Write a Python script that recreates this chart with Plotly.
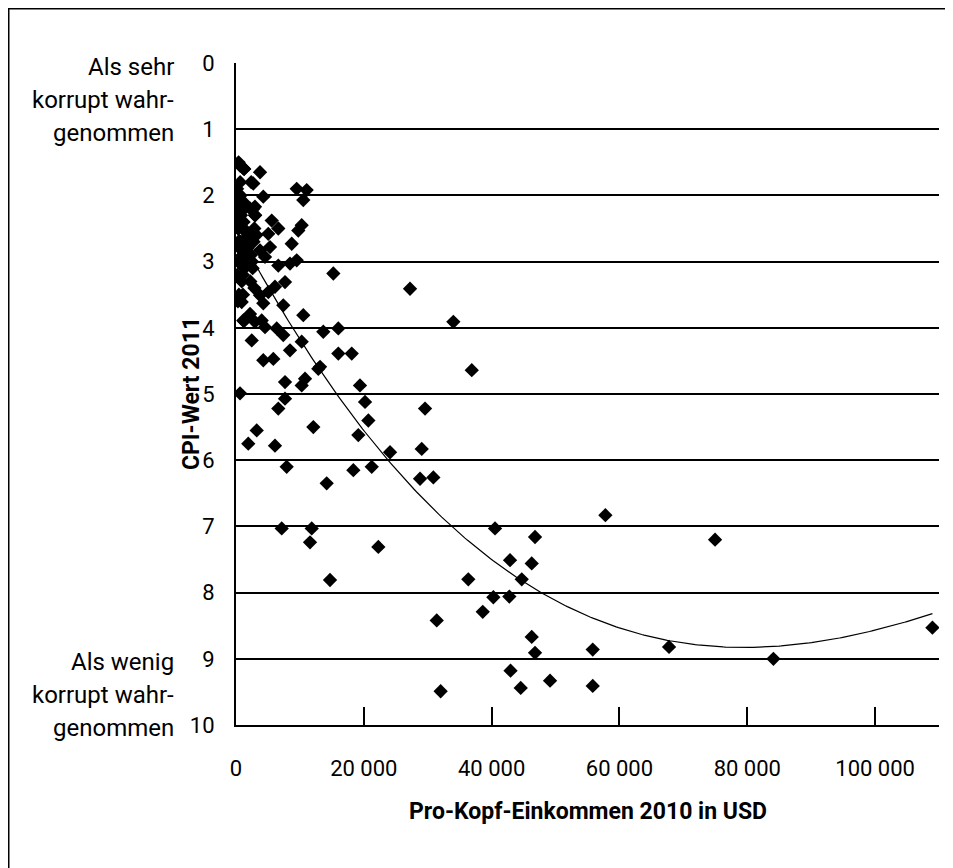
import numpy as np
import plotly.graph_objects as go

# Pro-Kopf-Einkommen 2010 (USD) and CPI 2011
income = [
    # high income
    57800, 40530, 46790, 42880, 46270, 36350, 44710, 40270, 42770, 38610,
    31410, 46270, 46790, 55820, 42960, 49140, 44550, 55820, 32020, 74960,
    67760, 84090, 108970,
    # middle
    15230, 27230, 34010, 36890, 13660, 16010, 16010, 18110, 13150, 19400,
    20190, 29580, 20710, 19140, 24100, 29060, 18360, 21240, 14190, 28800,
    30880, 7930, 7150, 11850, 11580, 22270, 14710, 12100, 3240, 1920,
    6100, 6620, 7670, 630, 7670, 10800, 10280, 12880, 4270, 5840,
    8450, 10280, 7400, 2460, 6370, 4540, 1140, 4020, 10530, 7400,
    890, 4270, 2190, 2970, 3760, 5060, 6100, 7670, 9500, 8450,
    6620, 4540, 5320, 3760, 8720, 5050, 9750, 6620, 10280, 5590,
    2970, 2970, 4270, 10530, 11060, 9500, 2710, 3760, 630, 1140,
    # low income cluster
    170, 180, 410, 650, 710, 400, 880, 460, 750, 1040,
    780, 470, 1160, 590, 1300, 490, 790, 750, 1180, 500,
    700, 1180, 1160, 340, 1000, 1050, 490, 370, 1110, 430,
    600, 390, 440, 530, 1100, 780, 550, 1070, 1090, 1270,
    330, 1330, 200, 1250, 1090, 450, 1270, 1280, 1030, 1200,
    2600, 1810, 1870, 1790, 1880, 2050, 2340, 2240, 2500, 2380,
    2240, 2750, 2720, 2870, 2880, 3000, 3200, 2740, 900, 300,
]
cpi = [
    6.83, 7.03, 7.16, 7.51, 7.56, 7.80, 7.80, 8.07, 8.06, 8.29,
    8.42, 8.67, 8.91, 8.86, 9.18, 9.33, 9.44, 9.41, 9.49, 7.20,
    8.82, 9.00, 8.53,
    3.18, 3.41, 3.91, 4.64, 4.06, 4.01, 4.39, 4.39, 4.59, 4.87,
    5.12, 5.22, 5.40, 5.62, 5.88, 5.83, 6.15, 6.10, 6.35, 6.28,
    6.26, 6.10, 7.03, 7.03, 7.24, 7.31, 7.81, 5.50, 5.55, 5.75,
    5.78, 5.22, 5.07, 4.99, 4.82, 4.77, 4.87, 4.62, 4.49, 4.47,
    4.34, 4.21, 4.11, 4.19, 4.01, 3.99, 3.89, 3.89, 3.81, 3.66,
    3.61, 3.63, 3.79, 3.91, 3.51, 3.46, 3.38, 3.31, 2.98, 3.03,
    3.06, 2.93, 2.78, 2.83, 2.73, 2.58, 2.53, 2.50, 2.45, 2.38,
    2.30, 2.17, 2.02, 2.07, 1.92, 1.90, 1.82, 1.65, 1.55, 1.59,
    1.9, 2.0, 1.5, 1.8, 2.0, 2.1, 2.1, 2.2, 2.1, 2.2,
    2.3, 2.2, 2.1, 2.2, 2.2, 2.2, 2.2, 2.4, 2.4, 2.4,
    2.7, 2.5, 2.2, 2.5, 2.4, 2.5, 2.4, 2.5, 2.5, 3.0,
    2.8, 2.7, 2.7, 3.0, 2.9, 3.0, 3.0, 3.2, 2.9, 3.0,
    3.0, 3.1, 3.2, 3.9, 3.5, 3.5, 1.6, 1.6, 2.7, 3.0,
    3.1, 2.9, 2.7, 2.8, 2.6, 2.6, 2.9, 3.3, 3.0, 1.8,
    2.2, 2.6, 2.2, 2.5, 3.4, 2.3, 2.6, 2.7, 3.3, 3.6,
]

x_tickvals = [0, 20000, 40000, 60000, 80000, 100000]
x_ticktext = ["0", "20 000", "40 000", "60 000", "80 000", "100 000"]
y_tickvals = list(range(0, 11))

x_title = "Pro-Kopf-Einkommen 2010 in USD"
y_title = "CPI-Wert 2011"
top_label = ["Als sehr", "korrupt wahr-", "genommen"]
bottom_label = ["Als wenig", "korrupt wahr-", "genommen"]

# polynomial (3rd order) trendline fitted to the data
coef = np.polyfit(income, cpi, 3)
tx = np.linspace(min(income), max(income), 300)
ty = np.polyval(coef, tx)

FONT = "Roboto, Liberation Sans, sans-serif"

fig = go.Figure()
fig.add_trace(go.Scatter(
    x=income, y=cpi, mode="markers",
    marker=dict(symbol="diamond", size=11, color="black", line=dict(width=0)),
    showlegend=False, hoverinfo="x+y",
))
fig.add_trace(go.Scatter(
    x=tx, y=ty, mode="lines", line=dict(color="black", width=1.2),
    showlegend=False, hoverinfo="skip",
))

W, H = 953, 868
L, R, T, B = 228, 22, 55, 151
pw, ph = W - L - R, H - T - B

def px_x(p):
    return (p - L) / pw

def px_y(p):
    return (H - B - p) / ph

fig.update_layout(
    width=W, height=H, autosize=False,
    margin=dict(l=L, r=R, t=T, b=B, pad=0),
    paper_bgcolor="white", plot_bgcolor="white",
    font=dict(family=FONT, size=22, color="black"),
    xaxis=dict(
        range=[0, 110000], tickvals=x_tickvals, ticktext=x_ticktext,
        showgrid=False, zeroline=False, showline=True, linecolor="black",
        linewidth=2, ticks="inside", ticklen=18, tickwidth=2,
        tickcolor="black", ticklabelstandoff=23,
    ),
    yaxis=dict(
        range=[10, 0], tickvals=y_tickvals, showgrid=True,
        gridcolor="black", gridwidth=2, zeroline=False, showline=True,
        linecolor="black", linewidth=2, ticks="", ticklabelstandoff=15,
    ),
)

annotations = [
    dict(text="<b>%s</b>" % x_title, xref="paper", yref="paper",
         x=0.5, y=px_y(803), xanchor="center", yanchor="middle",
         showarrow=False, font=dict(size=23)),
    dict(text="<b>%s</b>" % y_title, xref="paper", yref="paper",
         x=px_x(183), y=0.5, xanchor="center", yanchor="middle",
         textangle=-90, showarrow=False, font=dict(size=23)),
]
for i, t in enumerate(top_label):
    annotations.append(dict(text=t, xref="paper", yref="paper",
                            x=px_x(168), y=px_y(59 + 33 * i),
                            xanchor="right", yanchor="middle",
                            showarrow=False, font=dict(size=24)))
for i, t in enumerate(bottom_label):
    annotations.append(dict(text=t, xref="paper", yref="paper",
                            x=px_x(168), y=px_y(654 + 33 * i),
                            xanchor="right", yanchor="middle",
                            showarrow=False, font=dict(size=24)))
fig.update_layout(annotations=annotations)

fig.add_shape(type="rect", xref="paper", yref="paper",
              x0=px_x(0.5), x1=px_x(980), y0=px_y(0.5), y1=px_y(900),
              line=dict(color="black", width=2), fillcolor="rgba(0,0,0,0)",
              layer="above")

fig.write_html("out.html")
